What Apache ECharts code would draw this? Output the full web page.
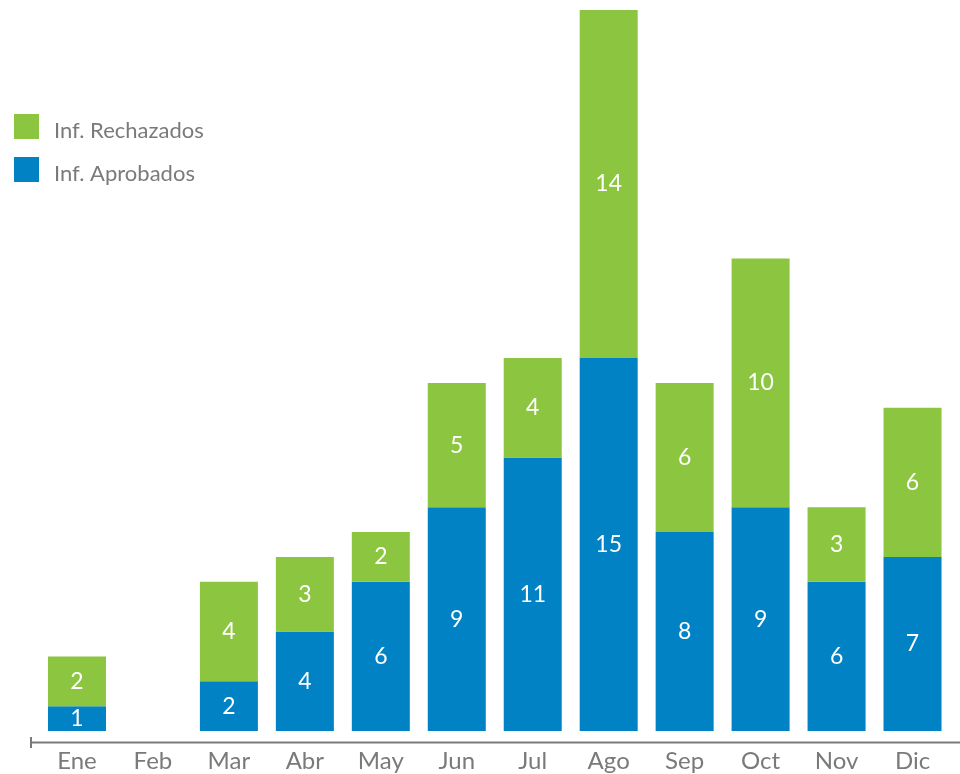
<!DOCTYPE html>
<html>
<head>
<meta charset="utf-8">
<script src="https://cdn.jsdelivr.net/npm/echarts@6/dist/echarts.min.js"></script>
<style>
html,body{margin:0;padding:0;background:#fff;}
#chart{width:960px;height:774px;}
</style>
</head>
<body>
<div id="chart"></div>
<script>
const categories = ['Ene','Feb','Mar','Abr','May','Jun','Jul','Ago','Sep','Oct','Nov','Dic'];
const aprobados  = [1, 0, 2, 4, 6, 9, 11, 15, 8, 9, 6, 7];
const rechazados = [2, 0, 4, 3, 2, 5, 4, 14, 6, 10, 3, 6];
const seriesNames = ['Inf. Aprobados', 'Inf. Rechazados'];

const FONT = 'Lato';
const GRAY = '#7a7a7a';
const chart = echarts.init(document.getElementById('chart'), null, {renderer: 'canvas'});

const labelCfg = {
  show: true,
  position: 'inside',
  color: '#ffffff',
  fontFamily: FONT,
  fontSize: 23,
  formatter: p => (p.value ? String(p.value) : '')
};

chart.setOption({
  animation: false,
  backgroundColor: '#ffffff',
  grid: {left: 39, right: 9.5, top: 10, bottom: 43, containLabel: false},
  legend: {
    orient: 'vertical',
    left: 14,
    top: 114,
    padding: 0,
    itemWidth: 25,
    itemHeight: 25,
    itemGap: 15,
    icon: 'rect',
    data: [seriesNames[1], seriesNames[0]],
    formatter: name => '{t|' + name + '}',
    textStyle: {
      color: GRAY, fontFamily: FONT, fontSize: 22,
      rich: {t: {color: GRAY, fontFamily: FONT, fontSize: 22, padding: [9, 0, 0, 10]}}
    }
  },
  xAxis: {
    type: 'category',
    data: categories,
    offset: 11,
    axisLine: {show: false},
    axisTick: {show: false},
    axisLabel: {color: GRAY, fontFamily: FONT, fontSize: 24, margin: 7}
  },
  yAxis: {
    type: 'value',
    min: 0,
    max: 29,
    show: false,
    splitLine: {show: false}
  },
  graphic: [
    {type: 'line', shape: {x1: 30, y1: 742.5, x2: 960, y2: 742.5}, style: {stroke: GRAY, lineWidth: 2}, z: 10},
    {type: 'line', shape: {x1: 31, y1: 737, x2: 31, y2: 748}, style: {stroke: GRAY, lineWidth: 2}, z: 10}
  ],
  series: [
    {
      name: seriesNames[0],
      type: 'bar',
      stack: 'total',
      data: aprobados,
      barWidth: 58,
      itemStyle: {color: '#0082c4'},
      label: labelCfg
    },
    {
      name: seriesNames[1],
      type: 'bar',
      stack: 'total',
      data: rechazados,
      barWidth: 58,
      itemStyle: {color: '#8cc540'},
      label: labelCfg
    }
  ]
});
</script>
</body>
</html>
